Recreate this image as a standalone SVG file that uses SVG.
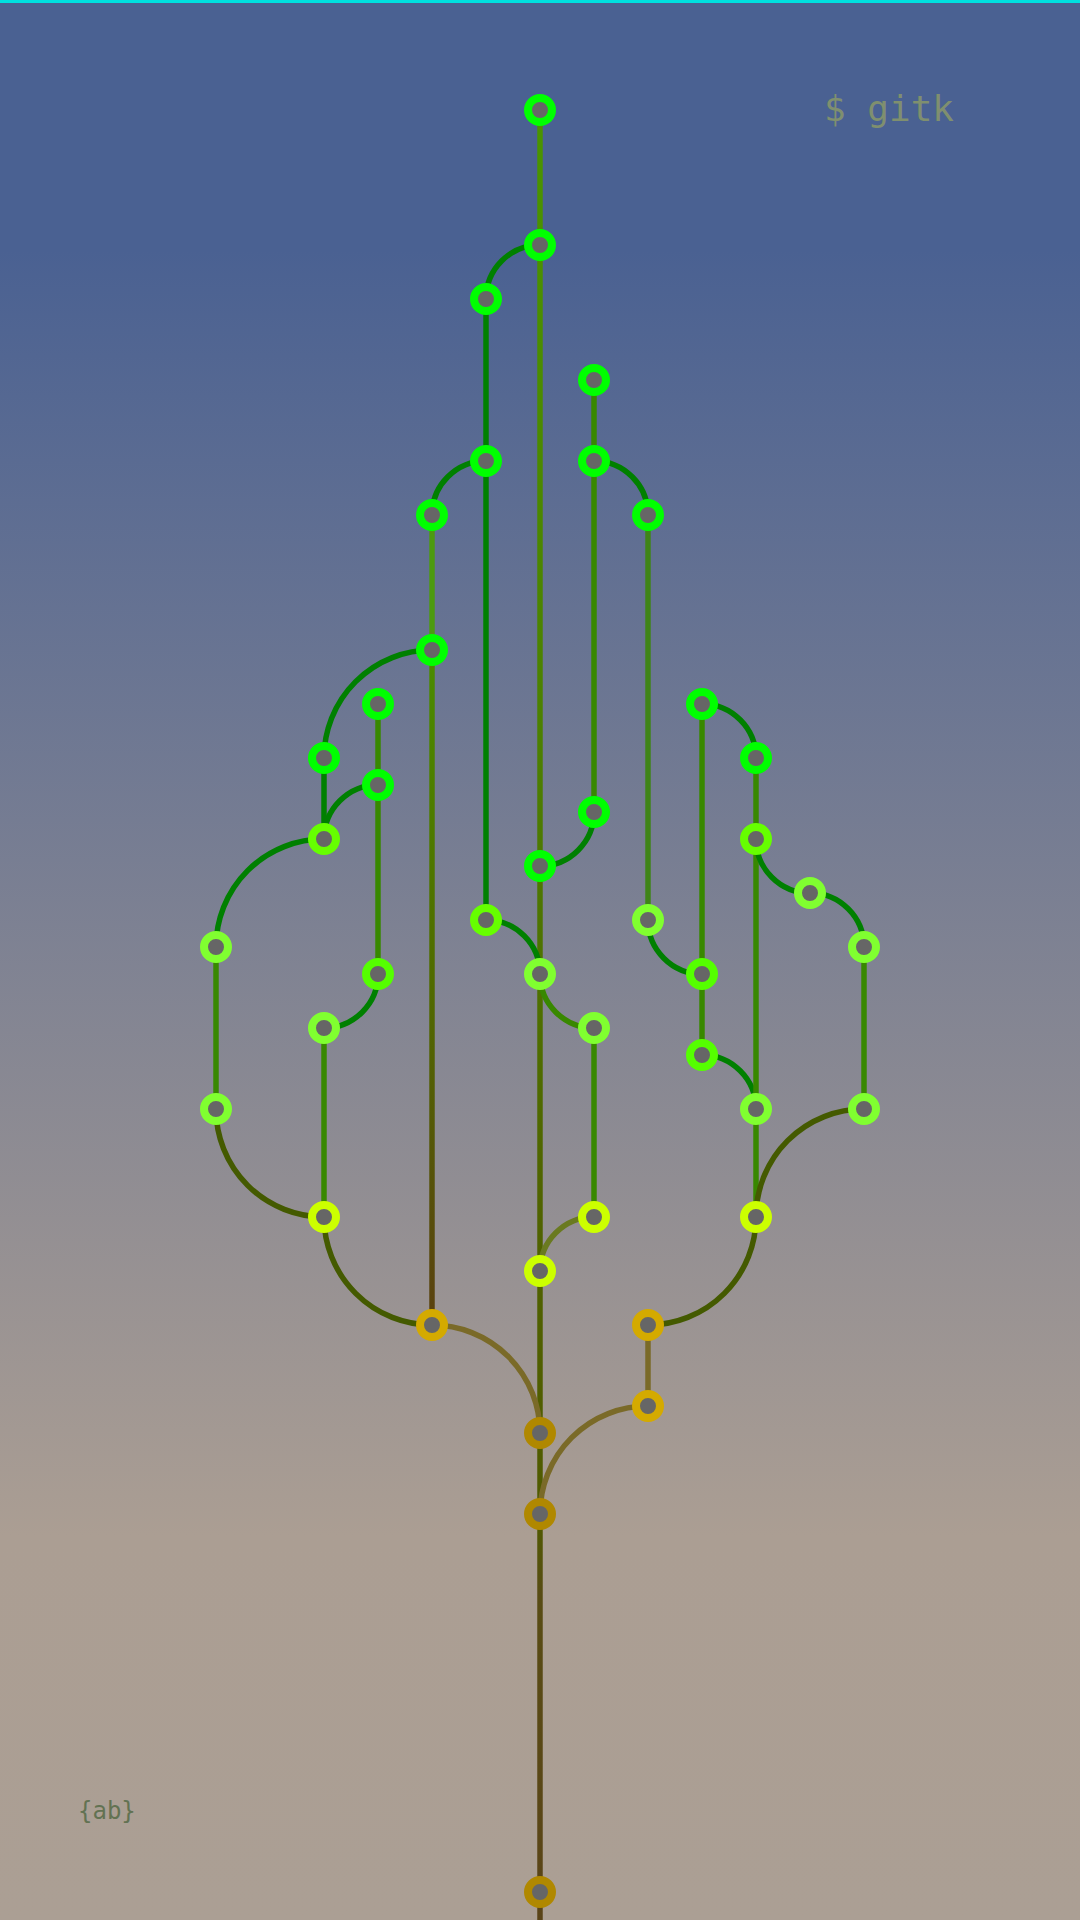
<svg xmlns="http://www.w3.org/2000/svg" width="1080" height="1920" viewBox="0 0 1080 1920">
<defs>
<linearGradient id="bg" x1="0" y1="0" x2="0" y2="1">
<stop offset="0" stop-color="#4a6192"/>
<stop offset="0.13" stop-color="#4a6192"/>
<stop offset="0.8" stop-color="#ab9e93"/>
<stop offset="1" stop-color="#ab9f94"/>
</linearGradient>
<linearGradient id="mainG" gradientUnits="userSpaceOnUse" x1="0" y1="110" x2="0" y2="1920">
<stop offset="0" stop-color="#4a9400"/>
<stop offset="0.35" stop-color="#4c8000"/>
<stop offset="0.6" stop-color="#506400"/>
<stop offset="0.78" stop-color="#505a00"/>
<stop offset="0.82" stop-color="#584c14"/>
<stop offset="1" stop-color="#5a4418"/>
</linearGradient>
<linearGradient id="k2G" gradientUnits="userSpaceOnUse" x1="0" y1="650" x2="0" y2="1325">
<stop offset="0" stop-color="#4a8c00"/>
<stop offset="0.5" stop-color="#506a00"/>
<stop offset="1" stop-color="#5a4010"/>
</linearGradient>
<style>
.e{fill:none;stroke-width:5.5}
.dg{stroke:#008000}
.mg{stroke:#388800}
.gg{stroke:#3f8418}
.lg{stroke:#4c9a10}
.ol{stroke:#445a00}
.yo{stroke:#6a7a20}
.br{stroke:#7a6a28}
.n circle{fill:#666666;stroke-width:8}
.c0{stroke:#00ff00}
.c1{stroke:#66ff00}
.c2{stroke:#55ff00}
.c3{stroke:#80ff30}
.c4{stroke:#ccff00}
.c5{stroke:#d4aa00}
.c6{stroke:#b08800}
</style>
</defs>
<rect x="0" y="0" width="1080" height="1920" fill="url(#bg)"/>
<rect x="0" y="0" width="1080" height="3" fill="#00e0e0"/>
<text x="824" y="121" font-family="DejaVu Sans Mono, monospace" font-size="36" fill="#7f8f6f">$ gitk</text>
<text x="78" y="1819" font-family="DejaVu Sans Mono, monospace" font-size="24" fill="#627252">{ab}</text>
<g id="connectors">
<path class="e" stroke="url(#mainG)" d="M540,110 V1920"/>
<path class="e dg" d="M486,299 V920"/>
<path class="e dg" d="M540,245 A54,54 0 0 0 486,299"/>
<path class="e dg" d="M486,461 A54,54 0 0 0 432,515"/>
<path class="e lg" d="M432,515 V650"/>
<path class="e" stroke="url(#k2G)" d="M432,650 V1325"/>
<path class="e dg" d="M432,650 A108,108 0 0 0 324,758"/>
<path class="e dg" d="M324,758 V839"/>
<path class="e dg" d="M324,839 A108,108 0 0 0 216,947"/>
<path class="e dg" d="M378,785 A54,54 0 0 0 324,839"/>
<path class="e mg" d="M378,704 V974"/>
<path class="e dg" d="M378,974 A54,54 0 0 1 324,1028"/>
<path class="e mg" d="M324,1028 V1217"/>
<path class="e mg" d="M216,947 V1109"/>
<path class="e ol" d="M216,1109 A108,108 0 0 0 324,1217"/>
<path class="e ol" d="M324,1217 A108,108 0 0 0 432,1325"/>
<path class="e br" d="M432,1325 A108,108 0 0 1 540,1433"/>
<path class="e mg" d="M594,380 V812"/>
<path class="e dg" d="M594,461 A54,54 0 0 1 648,515"/>
<path class="e dg" d="M594,812 A54,54 0 0 1 540,866"/>
<path class="e gg" d="M648,515 V920"/>
<path class="e dg" d="M648,920 A54,54 0 0 0 702,974"/>
<path class="e dg" d="M486,920 A54,54 0 0 1 540,974"/>
<path class="e mg" d="M540,974 A54,54 0 0 0 594,1028"/>
<path class="e mg" d="M594,1028 V1217"/>
<path class="e yo" d="M594,1217 A54,54 0 0 0 540,1271"/>
<path class="e mg" d="M702,704 V1055"/>
<path class="e dg" d="M702,704 A54,54 0 0 1 756,758"/>
<path class="e dg" d="M702,1055 A54,54 0 0 1 756,1109"/>
<path class="e mg" d="M756,758 V1217"/>
<path class="e dg" d="M756,839 A54,54 0 0 0 810,893"/>
<path class="e dg" d="M810,893 A54,54 0 0 1 864,947"/>
<path class="e mg" d="M864,947 V1109"/>
<path class="e ol" d="M864,1109 A108,108 0 0 0 756,1217"/>
<path class="e ol" d="M756,1217 A108,108 0 0 1 648,1325"/>
<path class="e br" d="M648,1325 V1406"/>
<path class="e br" d="M648,1406 A108,108 0 0 0 540,1514"/>
</g>
<g class="n">
<g id="n1"><circle class="c0" cx="540" cy="110" r="12"/></g>
<g id="n2"><circle class="c0" cx="540" cy="245" r="12"/></g>
<g id="n3"><circle class="c0" cx="486" cy="299" r="12"/></g>
<g id="n4"><circle class="c0" cx="594" cy="380" r="12"/></g>
<g id="n5"><circle class="c0" cx="486" cy="461" r="12"/></g>
<g id="n6"><circle class="c0" cx="594" cy="461" r="12"/></g>
<g id="n7"><circle class="c0" cx="432" cy="515" r="12"/></g>
<g id="n8"><circle class="c0" cx="648" cy="515" r="12"/></g>
<g id="n9"><circle class="c0" cx="432" cy="650" r="12"/></g>
<g id="n10"><circle class="c0" cx="378" cy="704" r="12"/></g>
<g id="n11"><circle class="c0" cx="702" cy="704" r="12"/></g>
<g id="n12"><circle class="c0" cx="324" cy="758" r="12"/></g>
<g id="n13"><circle class="c0" cx="756" cy="758" r="12"/></g>
<g id="n14"><circle class="c0" cx="378" cy="785" r="12"/></g>
<g id="n15"><circle class="c0" cx="594" cy="812" r="12"/></g>
<g id="n16"><circle class="c1" cx="324" cy="839" r="12"/></g>
<g id="n17"><circle class="c1" cx="756" cy="839" r="12"/></g>
<g id="n18"><circle class="c0" cx="540" cy="866" r="12"/></g>
<g id="n19"><circle class="c3" cx="810" cy="893" r="12"/></g>
<g id="n20"><circle class="c1" cx="486" cy="920" r="12"/></g>
<g id="n21"><circle class="c3" cx="648" cy="920" r="12"/></g>
<g id="n22"><circle class="c3" cx="216" cy="947" r="12"/></g>
<g id="n23"><circle class="c3" cx="864" cy="947" r="12"/></g>
<g id="n24"><circle class="c2" cx="378" cy="974" r="12"/></g>
<g id="n25"><circle class="c3" cx="540" cy="974" r="12"/></g>
<g id="n26"><circle class="c2" cx="702" cy="974" r="12"/></g>
<g id="n27"><circle class="c3" cx="324" cy="1028" r="12"/></g>
<g id="n28"><circle class="c3" cx="594" cy="1028" r="12"/></g>
<g id="n29"><circle class="c2" cx="702" cy="1055" r="12"/></g>
<g id="n30"><circle class="c3" cx="216" cy="1109" r="12"/></g>
<g id="n31"><circle class="c3" cx="756" cy="1109" r="12"/></g>
<g id="n32"><circle class="c3" cx="864" cy="1109" r="12"/></g>
<g id="n33"><circle class="c4" cx="324" cy="1217" r="12"/></g>
<g id="n34"><circle class="c4" cx="594" cy="1217" r="12"/></g>
<g id="n35"><circle class="c4" cx="756" cy="1217" r="12"/></g>
<g id="n36"><circle class="c4" cx="540" cy="1271" r="12"/></g>
<g id="n37"><circle class="c5" cx="432" cy="1325" r="12"/></g>
<g id="n38"><circle class="c5" cx="648" cy="1325" r="12"/></g>
<g id="n39"><circle class="c5" cx="648" cy="1406" r="12"/></g>
<g id="n40"><circle class="c6" cx="540" cy="1433" r="12"/></g>
<g id="n41"><circle class="c6" cx="540" cy="1514" r="12"/></g>
<g id="n42"><circle class="c6" cx="540" cy="1892" r="12"/></g>
</g>
</svg>
